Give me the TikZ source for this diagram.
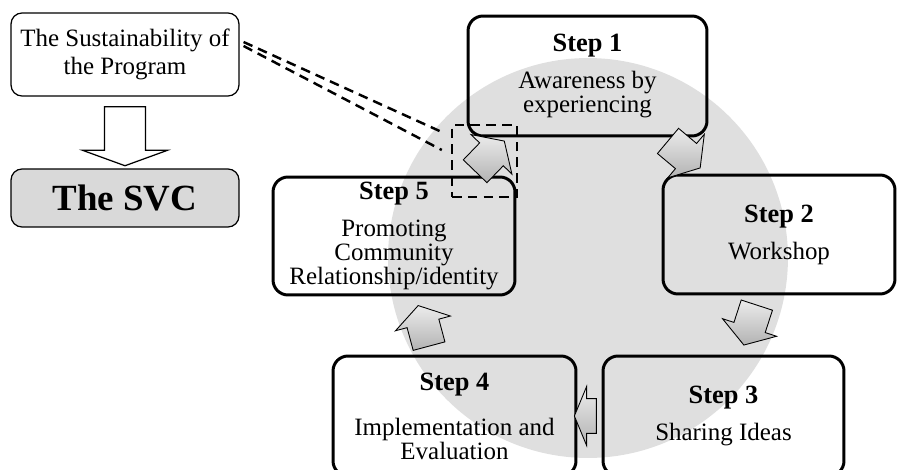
\documentclass[tikz,border=0pt]{standalone}
\usepackage{fontspec}
\setmainfont{Liberation Serif}
\usepackage{tikz}
\usetikzlibrary{shapes.arrows,calc}
\tikzstyle{stepbox}=[draw, rounded corners=0.3cm, line width=1.7pt, align=center, inner sep=0pt, minimum width=4.82cm, minimum height=2.4cm, font=\fontsize{14.2}{13.6}\selectfont]
\tikzstyle{plainbox}=[draw, rounded corners=0.22cm, line width=0.7pt, align=center, inner sep=0pt, minimum width=4.56cm]
\tikzstyle{loopar}=[single arrow, draw, line width=0.5pt, top color=gray!15, bottom color=gray!60, inner xsep=0pt, inner ysep=0.32cm, single arrow head extend=0.24cm, single arrow tip angle=114, minimum height=0.84cm]
\tikzstyle{hollowar}=[single arrow, draw, fill=white, line width=0.7pt, inner xsep=0pt, inner ysep=0.4cm, single arrow head extend=0.44cm, single arrow tip angle=140, minimum height=1.18cm]
\tikzstyle{dashbox}=[draw, line width=1.4pt, dash pattern=on 5.5pt off 3.5pt, minimum width=1.3cm, minimum height=1.44cm]
\tikzstyle{dashline}=[line width=1.4pt, dash pattern=on 5.5pt off 3.5pt]
\newcommand{\stepbox}{\node[stepbox]}
\newcommand{\steptitle}[1]{{\fontsize{15}{15}\selectfont\bfseries Step #1}}

\begin{document}
\begin{tikzpicture}[x=0.02cm, y=-0.02cm]
    \useasboundingbox (0,0) rectangle (897,470);
    \node[circle, fill=gray!25, minimum size=8cm, inner sep=0pt] (ring) at (588,258) {};

    \node[plainbox, minimum height=1.66cm, font=\fontsize{14.2}{16.4}\selectfont] (sus) at (125,54.5) {The Sustainability of\\the Program};
    \node[plainbox, fill=gray!30, minimum height=1.16cm, font=\fontsize{21}{21}\selectfont\bfseries] (svc) at (125,198) {The SVC};
    \node[hollowar, rotate=-90] (down) at ($(sus.south)!0.5!(svc.north)$) {};

    \stepbox (s1) [minimum width=4.78cm] at (587.5,76) {\steptitle{1}\\[7.5pt]Awareness by\\experiencing};
    \stepbox (s2) [minimum width=4.64cm, minimum height=2.38cm] at (779,234.5) {\steptitle{2}\\[7.5pt]Workshop};
    \stepbox (s3) at (723.5,416) {\steptitle{3}\\[7.5pt]Sharing Ideas};
    \stepbox (s4) [minimum width=4.86cm] at (454.5,416) {\steptitle{4}\\[12pt]Implementation and\\Evaluation};
    \stepbox (s5) [minimum width=4.84cm, minimum height=2.36cm] at (394,236) {\steptitle{5}\\[7.5pt]Promoting\\Community\\Relationship/identity};

    \node[loopar, rotate=46] (a1) at (486,160) {};
    \node[loopar, rotate=-40] (a2) at (680,151) {};
    \node[loopar, rotate=-108] (a3) at (752,320) {};
    \node[loopar, rotate=180, minimum height=0.44cm, inner ysep=0.34cm, single arrow tip angle=135] (a4) at (589,416) {};
    \node[loopar, rotate=105] (a5) at (425,331) {};

    \node[dashbox] (dash) at (484.5,161) {};
    \path[dashline]
    ([xshift=0.08cm,yshift=0.25cm]sus.east) edge ([xshift=-0.18cm,yshift=0.58cm]dash.west)
    ([xshift=0.08cm,yshift=0.17cm]sus.east) edge ([xshift=-0.18cm,yshift=0.22cm]dash.west);
\end{tikzpicture}
\end{document}
